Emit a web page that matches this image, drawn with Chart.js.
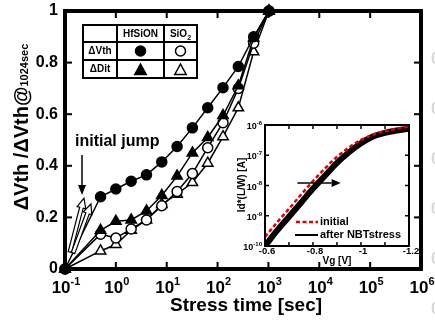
<!DOCTYPE html>
<html>
<head>
<meta charset="utf-8">
<script src="https://cdn.jsdelivr.net/npm/chart.js@4.4.1/dist/chart.umd.min.js"></script>
<style>
  html, body { margin: 0; padding: 0; background: #fff; }
  #wrap { position: relative; width: 435px; height: 325px; overflow: hidden; }
  #mainChart { position: absolute; left: 0; top: 0; }
  #insetChart { position: absolute; left: 230px; top: 115px; }
</style>
</head>
<body>
<div id="wrap">
  <canvas id="mainChart" width="435" height="325"></canvas>
  <canvas id="insetChart" width="190" height="155"></canvas>
</div>
<script>
// main plot: normalised shift vs stress time
const stressTime = [0.1, 0.5, 1, 2, 4, 8, 16, 32, 64, 128, 256, 512, 1024];
const dVthHfSiON = [0, 0.28, 0.31, 0.34, 0.365, 0.415, 0.475, 0.547, 0.625, 0.703, 0.785, 0.90, 1.0];
const dVthSiO2 = [0, 0.135, 0.12, 0.155, 0.19, 0.245, 0.30, 0.37, 0.47, 0.567, 0.70, 0.875, 1.0];
const dDitHfSiON = [0, 0.15, 0.185, 0.19, 0.225, 0.285, 0.36, 0.45, 0.51, 0.595, 0.71, 0.895, 1.0];
const dDitSiO2 = [0, 0.07, 0.095, 0.15, 0.19, 0.25, 0.29, 0.335, 0.41, 0.513, 0.625, 0.842, 1.0];
const xTickExp = ['-1', '0', '1', '2', '3', '4', '5', '6'];
const yTicks = [0, 0.2, 0.4, 0.6, 0.8, 1];

// inset: Id*(L/W) vs Vg
const vg = [-0.6, -0.65, -0.7, -0.75, -0.8, -0.85, -0.9, -0.95, -1.0, -1.05, -1.1, -1.15, -1.2];
const idInitial = [2.0e-10, 6.0e-10, 1.7e-9, 5.0e-9, 1.4e-8, 3.7e-8, 8.9e-8, 1.8e-7, 3.2e-7, 4.8e-7, 6.3e-7, 7.6e-7, 8.9e-7];
const idAfter = [1.0e-10, 3.2e-10, 9.3e-10, 2.7e-9, 7.9e-9, 2.1e-8, 5.6e-8, 1.26e-7, 2.5e-7, 4.2e-7, 5.5e-7, 6.6e-7, 7.6e-7];
const insetYExp = ['-10', '-9', '-8', '-7', '-6'];
const insetXTicks = [-0.6, -0.8, -1, -1.2];

const FONT = '"Liberation Sans", Arial, sans-serif';

function setFont(ctx, size) {
    ctx.font = 'bold ' + size + 'px ' + FONT;
}

function txt(ctx, s, x, y, size, align, base) {
    setFont(ctx, size);
    ctx.textAlign = align || 'center';
    ctx.textBaseline = base || 'middle';
    ctx.fillText(s, x, y);
}

// "10" with a raised exponent, centred (or right aligned) on x
function powLabel(ctx, exp, x, y, big, small, align) {
    setFont(ctx, big);
    const w1 = ctx.measureText('10').width;
    setFont(ctx, small);
    const w2 = ctx.measureText(exp).width;
    let x0 = align === 'right' ? x - w1 - w2 : x - (w1 + w2) / 2;
    ctx.textAlign = 'left';
    ctx.textBaseline = 'alphabetic';
    setFont(ctx, big);
    ctx.fillText('10', x0, y);
    setFont(ctx, small);
    ctx.fillText(exp, x0 + w1, y - big * 0.45);
}

function line(ctx, x0, y0, x1, y1, w) {
    ctx.lineWidth = w;
    ctx.beginPath();
    ctx.moveTo(x0, y0);
    ctx.lineTo(x1, y1);
    ctx.stroke();
}

function marker(ctx, style, filled, x, y, r) {
    ctx.fillStyle = filled ? '#000' : '#fff';
    ctx.strokeStyle = '#000';
    ctx.lineWidth = 1.5;
    ctx.beginPath();
    if (style === 'circle') {
        ctx.arc(x, y, r, 0, Math.PI * 2);
    } else {
        ctx.moveTo(x, y - r);
        ctx.lineTo(x + r * 0.95, y + r * 0.75);
        ctx.lineTo(x - r * 0.95, y + r * 0.75);
        ctx.closePath();
    }
    ctx.fill();
    ctx.stroke();
}

function hollowArrow(ctx, x0, y0, x1, y1) {
    const dx = x1 - x0, dy = y1 - y0;
    const len = Math.hypot(dx, dy);
    const ux = dx / len, uy = dy / len;
    const nx = -uy, ny = ux;
    const hl = 10, sw = 1.8, hw = 4.5;
    const bx = x1 - ux * hl, by = y1 - uy * hl;
    ctx.beginPath();
    ctx.moveTo(x0 + nx * sw, y0 + ny * sw);
    ctx.lineTo(bx + nx * sw, by + ny * sw);
    ctx.lineTo(bx + nx * hw, by + ny * hw);
    ctx.lineTo(x1, y1);
    ctx.lineTo(bx - nx * hw, by - ny * hw);
    ctx.lineTo(bx - nx * sw, by - ny * sw);
    ctx.lineTo(x0 - nx * sw, y0 - ny * sw);
    ctx.closePath();
    ctx.fillStyle = '#fff';
    ctx.fill();
    ctx.strokeStyle = '#000';
    ctx.lineWidth = 1.2;
    ctx.stroke();
}

function solidArrow(ctx, x0, y0, x1, y1, w, hl, hw) {
    const dx = x1 - x0, dy = y1 - y0;
    const len = Math.hypot(dx, dy);
    const ux = dx / len, uy = dy / len;
    const nx = -uy, ny = ux;
    ctx.strokeStyle = '#000';
    ctx.fillStyle = '#000';
    line(ctx, x0, y0, x1 - ux * hl, y1 - uy * hl, w);
    ctx.beginPath();
    ctx.moveTo(x1, y1);
    ctx.lineTo(x1 - ux * hl + nx * hw, y1 - uy * hl + ny * hw);
    ctx.lineTo(x1 - ux * hl - nx * hw, y1 - uy * hl - ny * hw);
    ctx.closePath();
    ctx.fill();
}

function series(label, ys, style, filled) {
    return {
        label: label,
        data: stressTime.map((t, i) => ({ x: t, y: ys[i] })),
        showLine: true,
        borderColor: '#000',
        borderWidth: 1.5,
        pointStyle: style,
        pointRadius: style === 'triangle' ? 6 : 5,
        pointBackgroundColor: filled ? '#000' : '#fff',
        pointBorderColor: '#000',
        pointBorderWidth: 1.5,
        clip: false
    };
}

const mainDecor = {
    id: 'mainDecor',
    beforeDatasetsDraw(chart) {
        const ctx = chart.ctx;
        const a = chart.chartArea;
        const xs = chart.scales.x, ys = chart.scales.y;
        ctx.save();
        ctx.strokeStyle = '#000';
        ctx.lineWidth = 4;
        ctx.strokeRect(a.left, a.top, a.right - a.left, a.bottom - a.top);

        xTickExp.forEach(e => {
            const px = xs.getPixelForValue(Math.pow(10, +e));
            line(ctx, px, a.bottom, px, a.bottom - 7, 2);
            line(ctx, px, a.top, px, a.top + 7, 2);
        });
        yTicks.forEach(v => {
            const py = ys.getPixelForValue(v);
            line(ctx, a.left, py, a.left + 7, py, 2);
            line(ctx, a.right, py, a.right - 7, py, 2);
        });
        ctx.restore();
    },
    afterDraw(chart) {
        const ctx = chart.ctx;
        const a = chart.chartArea;
        const xs = chart.scales.x, ys = chart.scales.y;
        ctx.save();
        ctx.fillStyle = '#000';

        // tick labels
        yTicks.forEach(v => {
            txt(ctx, String(v), a.left - 7, ys.getPixelForValue(v), 16, 'right', 'middle');
        });
        xTickExp.forEach(e => {
            powLabel(ctx, e, xs.getPixelForValue(Math.pow(10, +e)) + 1, 293, 17, 11, 'center');
        });

        // axis titles
        txt(ctx, 'Stress time [sec]', (a.left + a.right) / 2 + 3, 306, 19, 'center', 'middle');
        ctx.save();
        ctx.translate(28, 127);
        ctx.rotate(-Math.PI / 2);
        setFont(ctx, 20);
        const w1 = ctx.measureText('\u0394Vth /\u0394Vth@').width;
        setFont(ctx, 11);
        const w2 = ctx.measureText('1024sec').width;
        const x0 = -(w1 + w2) / 2;
        ctx.textAlign = 'left';
        ctx.textBaseline = 'alphabetic';
        setFont(ctx, 20);
        ctx.fillText('\u0394Vth /\u0394Vth@', x0, 0);
        setFont(ctx, 11);
        ctx.fillText('1024sec', x0 + w1, 0);
        ctx.restore();

        // marker table
        ctx.strokeStyle = '#000';
        ctx.lineWidth = 2;
        ctx.strokeRect(83, 25, 114, 53);
        line(ctx, 83, 42, 197, 42, 2);
        line(ctx, 83, 60, 197, 60, 2);
        line(ctx, 117, 25, 117, 78, 2);
        line(ctx, 164, 25, 164, 78, 2);
        ctx.fillStyle = '#000';
        txt(ctx, 'HfSiON', 140.5, 34, 10, 'center', 'middle');
        setFont(ctx, 10);
        const ws = ctx.measureText('SiO').width;
        txt(ctx, 'SiO', 180.5 - 2, 34, 10, 'center', 'middle');
        txt(ctx, '2', 178.5 + ws / 2 + 2, 38, 7, 'center', 'middle');
        txt(ctx, '\u0394Vth', 100, 51, 10, 'center', 'middle');
        txt(ctx, '\u0394Dit', 100, 69, 10, 'center', 'middle');
        marker(ctx, 'circle', true, 140.5, 51, 5);
        marker(ctx, 'circle', false, 180.5, 51, 5);
        marker(ctx, 'triangle', true, 140.5, 70, 6);
        marker(ctx, 'triangle', false, 180.5, 70, 6);

        // initial jump annotation
        ctx.fillStyle = '#000';
        txt(ctx, 'initial jump', 75, 142, 16, 'left', 'middle');
        solidArrow(ctx, 82, 155, 82, 195, 1.5, 10, 4);
        hollowArrow(ctx, xs.getPixelForValue(0.125), ys.getPixelForValue(0.066),
            xs.getPixelForValue(0.236), ys.getPixelForValue(0.275));
        hollowArrow(ctx, xs.getPixelForValue(0.144), ys.getPixelForValue(0.062),
            xs.getPixelForValue(0.324), ys.getPixelForValue(0.252));

        // edge of the neighbouring panel
        ctx.fillStyle = '#d8d8d8';
        [60, 110, 160, 210, 260, 310].forEach(y => txt(ctx, '0', 431, y, 16, 'left', 'middle'));
        ctx.restore();
    }
};

new Chart(document.getElementById('mainChart'), {
    type: 'scatter',
    data: {
        datasets: [
            series('\u0394Vth HfSiON', dVthHfSiON, 'circle', true),
            series('\u0394Dit HfSiON', dDitHfSiON, 'triangle', true),
            series('\u0394Vth SiO2', dVthSiO2, 'circle', false),
            series('\u0394Dit SiO2', dDitSiO2, 'triangle', false)
        ]
    },
    options: {
        responsive: false,
        animation: false,
        layout: { padding: { left: 65, right: 14, top: 11, bottom: 56 } },
        plugins: { legend: { display: false }, tooltip: { enabled: false } },
        scales: {
            x: { type: 'logarithmic', min: 0.1, max: 1e6, display: false },
            y: { type: 'linear', min: 0, max: 1, display: false }
        }
    },
    plugins: [mainDecor]
});

const insetDecor = {
    id: 'insetDecor',
    beforeDatasetsDraw(chart) {
        const ctx = chart.ctx;
        const a = chart.chartArea;
        ctx.save();
        ctx.fillStyle = '#fff';
        ctx.fillRect(a.left, a.top, a.right - a.left, a.bottom - a.top);
        ctx.restore();
    },
    afterDraw(chart) {
        const ctx = chart.ctx;
        const a = chart.chartArea;
        const xs = chart.scales.x, ys = chart.scales.y;
        ctx.save();
        ctx.strokeStyle = '#000';
        ctx.fillStyle = '#000';
        ctx.lineWidth = 2;
        ctx.strokeRect(a.left, a.top, a.right - a.left, a.bottom - a.top);

        insetYExp.forEach(e => {
            const py = ys.getPixelForValue(Math.pow(10, +e));
            line(ctx, a.left, py, a.left + 4, py, 1.5);
            line(ctx, a.right, py, a.right - 4, py, 1.5);
            powLabel(ctx, e, a.left - 3, py + 4, 9, 6, 'right');
        });
        for (let v = -0.6; v >= -1.2001; v -= 0.1) {
            const px = xs.getPixelForValue(v);
            line(ctx, px, a.top, px, a.top + 4, 1.5);
            line(ctx, px, a.bottom, px, a.bottom - 4, 1.5);
        }
        insetXTicks.forEach(v => {
            txt(ctx, String(v), xs.getPixelForValue(v) + 2, a.bottom + 5, 9.5, 'center', 'middle');
        });
        txt(ctx, 'Vg [V]', (a.left + a.right) / 2, a.bottom + 15, 10, 'center', 'middle');

        ctx.save();
        ctx.translate(12, 70);
        ctx.rotate(-Math.PI / 2);
        txt(ctx, 'Id*(L/W) [A]', 0, 0, 10, 'center', 'middle');
        ctx.restore();

        // legend
        ctx.strokeStyle = '#e00000';
        ctx.setLineDash([4, 2.5]);
        line(ctx, 66, 107, 88, 107, 2.5);
        ctx.setLineDash([]);
        ctx.strokeStyle = '#000';
        line(ctx, 65, 120, 88, 120, 2);
        txt(ctx, 'initial', 90, 107, 11, 'left', 'middle');
        txt(ctx, 'after NBTstress', 90, 120, 11, 'left', 'middle');

        // shift arrow
        solidArrow(ctx, xs.getPixelForValue(-0.735), ys.getPixelForValue(1.2e-8),
            xs.getPixelForValue(-0.915), ys.getPixelForValue(1.2e-8), 1.5, 9, 4);
        ctx.restore();
    }
};

new Chart(document.getElementById('insetChart'), {
    type: 'scatter',
    data: {
        datasets: [
            {
                label: 'initial',
                data: vg.map((v, i) => ({ x: v, y: idInitial[i] })),
                showLine: true,
                borderColor: '#e00000',
                borderWidth: 2.5,
                borderDash: [4, 2.5],
                pointRadius: 0,
                cubicInterpolationMode: 'monotone'
            },
            {
                label: 'after NBTstress',
                data: vg.map((v, i) => ({ x: v, y: idAfter[i] })),
                showLine: true,
                borderColor: '#000',
                borderWidth: 6,
                pointRadius: 0,
                cubicInterpolationMode: 'monotone'
            }
        ]
    },
    options: {
        responsive: false,
        animation: false,
        layout: { padding: { left: 35, right: 11, top: 10, bottom: 24 } },
        plugins: { legend: { display: false }, tooltip: { enabled: false } },
        scales: {
            x: { type: 'linear', min: -1.2, max: -0.6, reverse: true, display: false },
            y: { type: 'logarithmic', min: 1e-10, max: 1e-6, display: false }
        }
    },
    plugins: [insetDecor]
});
</script>
</body>
</html>
